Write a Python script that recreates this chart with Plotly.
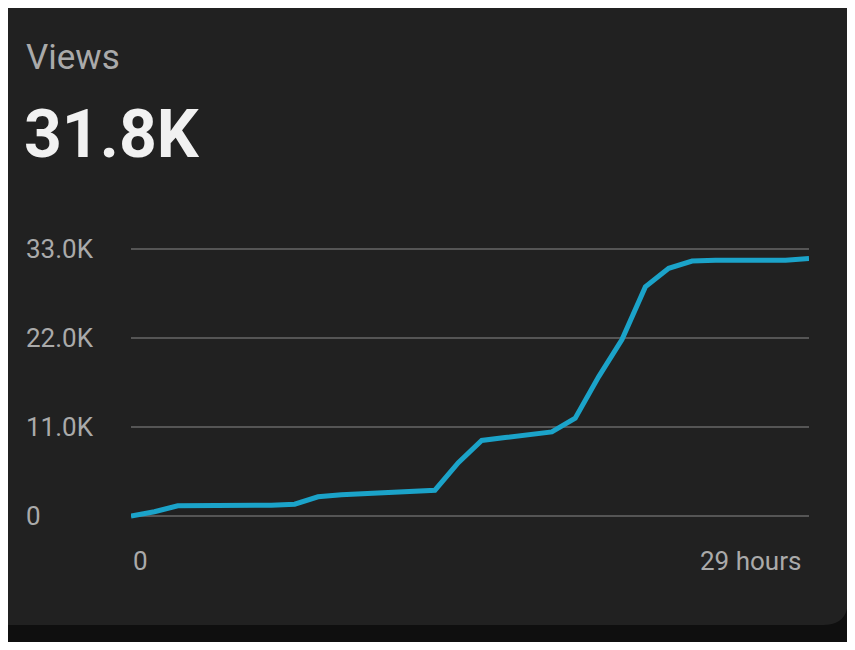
import plotly.graph_objects as go

hours = list(range(30))
views_k = [0, 0.54, 1.28, 1.28, 1.28, 1.36, 1.36, 1.48, 2.39, 2.64,
           2.8, 3.0, 3.13, 3.2, 6.6, 9.35, 9.7, 10.05, 10.4, 12.1,
           17.2, 21.8, 28.3, 30.6, 31.5, 31.6, 31.6, 31.6, 31.6, 31.8]
y_ticks = [0, 11, 22, 33]
y_labels = ["0", "11.0K", "22.0K", "33.0K"]
x_ticks = [0, 29]
x_labels = ["0", "29 hours"]

# page has an 8px body margin, so everything is shifted by OFF
OFF = 8
W, H = 855 - 2 * OFF, 650 - 2 * OFF
pad = 0.35  # K of padding so the 0 and 33K gridlines are not clipped
k_px = (516 - 249) / 33
L = 131 - OFF
R = W - (809 - OFF)
T = int(round(249 - OFF - pad * k_px))
B = int(round(H - (516 - OFF + pad * k_px)))
pw, ph = W - L - R, H - T - B

def px(x):
    return (x - OFF - L) / pw

def py(y):
    return (H - B - (y - OFF)) / ph

fig = go.Figure()
fig.add_trace(go.Scatter(x=hours, y=views_k, mode="lines",
                         line=dict(color="#1ba3c9", width=5), hoverinfo="skip"))

# card background with rounded bottom-right corner
r = 25
x0, x1, y0, y1 = px(-20), px(848), py(625), py(-10)
rx, ry = r / pw, r / ph
card = (f"M {x0},{y1} L {x1},{y1} L {x1},{y0 + ry} "
        f"Q {x1},{y0} {x1 - rx},{y0} L {x0},{y0} Z")
shapes = [dict(type="path", path=card, xref="paper", yref="paper",
               fillcolor="#212121", line=dict(width=0), layer="below")]

ann = [
    dict(text="Views", x=px(24), y=py(57), xanchor="left", yanchor="middle",
         font=dict(size=35, color="#aaaaaa")),
    dict(text="<b>31.8K</b>", x=px(22), y=py(135), xanchor="left", yanchor="middle",
         font=dict(size=66, color="#f1f1f1")),
]
for v, t in zip(y_ticks, y_labels):
    ann.append(dict(text=t, x=px(24), y=v, yref="y", xanchor="left", yanchor="middle",
                    font=dict(size=26, color="#aaaaaa")))
for v, t, a in zip(x_ticks, x_labels, ["left", "right"]):
    ann.append(dict(text=t, x=v + (0.0 if a == "left" else -0.25), xref="x", y=py(561),
                    xanchor=a, yanchor="middle", font=dict(size=26, color="#aaaaaa")))
for a in ann:
    a.setdefault("xref", "paper")
    a.setdefault("yref", "paper")
    a["showarrow"] = False

fig.update_layout(
    width=W, height=H, margin=dict(l=L, r=R, t=T, b=B),
    paper_bgcolor="#0f0f0f", plot_bgcolor="rgba(0,0,0,0)",
    font=dict(family="Roboto"), showlegend=False,
    shapes=shapes, annotations=ann,
    xaxis=dict(range=[0, 29], showgrid=False, zeroline=False, showticklabels=False, fixedrange=True),
    yaxis=dict(range=[-pad, 33 + pad], tickvals=y_ticks, showticklabels=False, gridcolor="#555555",
               gridwidth=2, zeroline=False, fixedrange=True),
)
fig.write_html("out.html")
